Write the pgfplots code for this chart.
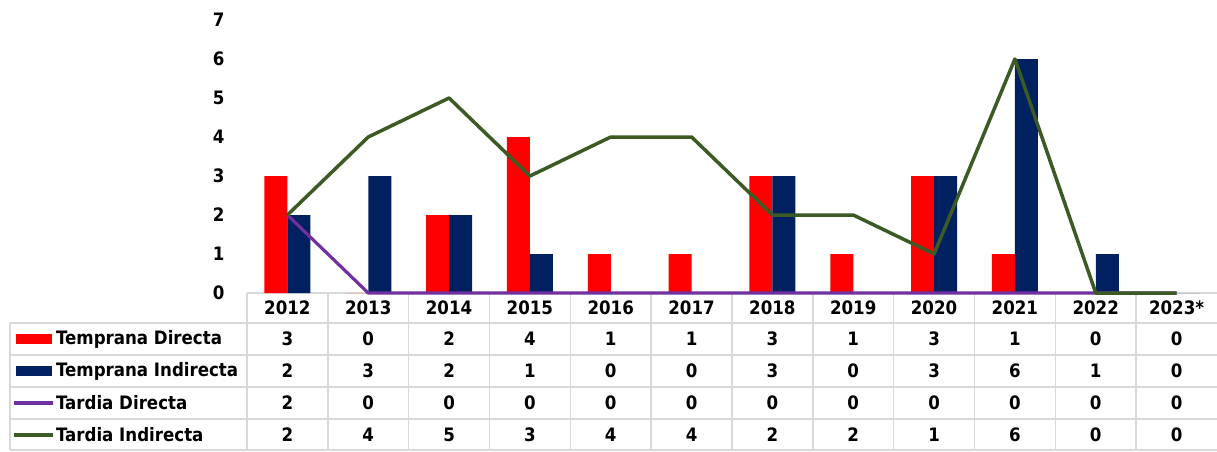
\documentclass[border=0pt]{standalone}
\usepackage{pgfplots}
\pgfplotsset{compat=1.18}
\usepackage{fontspec}
\setmainfont{DejaVu Sans Condensed}
\definecolor{cRed}{HTML}{FF0000}
\definecolor{cNavy}{HTML}{002060}
\definecolor{cPurple}{HTML}{7030A0}
\definecolor{cGreen}{HTML}{3B5A24}
\definecolor{cGrid}{HTML}{D9D9D9}
\newcommand{\tf}{\fontsize{18.5}{22}\selectfont\bfseries}
\begin{document}
\begin{tikzpicture}[x=1pt,y=1pt]
\path[use as bounding box] (0,0) rectangle (1217,451);
% table grid
\begin{scope}[draw=cGrid, line width=1.5pt]
\draw (247,158) -- (1217,158);
\foreach \y in {128,96,64,32,1} \draw (10,\y) -- (1217,\y);
\draw (10,128) -- (10,1);
\foreach \k in {0,...,11} \draw ({247+80.83*\k},158) -- ({247+80.83*\k},1);
\end{scope}
\begin{axis}[
  at={(247pt,158pt)}, anchor=south west,
  scale only axis, width=970pt, height=273pt,
  xmin=-0.5, xmax=11.5, ymin=0, ymax=7,
  axis line style={draw=none},
  xtick=\empty, ytick={0,1,...,7},
  major tick length=0pt,
  y tick label style={font=\tf, xshift=-19pt},
  /pgf/number format/assume math mode=true,
  clip=false,
]
\addplot[ybar, bar width=23pt, bar shift=-11.5pt, fill=cRed, draw=none]
  coordinates {(0,3)(1,0)(2,2)(3,4)(4,1)(5,1)(6,3)(7,1)(8,3)(9,1)(10,0)(11,0)};
\addplot[ybar, bar width=23pt, bar shift=11.5pt, fill=cNavy, draw=none]
  coordinates {(0,2)(1,3)(2,2)(3,1)(4,0)(5,0)(6,3)(7,0)(8,3)(9,6)(10,1)(11,0)};
\addplot[cPurple, line width=3.2pt, line join=round]
  coordinates {(0,2)(1,0)(2,0)(3,0)(4,0)(5,0)(6,0)(7,0)(8,0)(9,0)(10,0)(11,0)};
\addplot[cGreen, line width=3.5pt, line join=round]
  coordinates {(0,2)(1,4)(2,5)(3,3)(4,4)(5,4)(6,2)(7,2)(8,1)(9,6)(10,0)(11,0)};
\end{axis}
% header
\foreach \t [count=\i from 0] in {2012,2013,2014,2015,2016,2017,2018,2019,2020,2021,2022,2023*}
  \node[font=\tf] at ({287.4+80.83*\i},143) {\t};
% row labels with keys
\fill[cRed] (16,107) rectangle (52,117);
\fill[cNavy] (16,75) rectangle (52,85);
\draw[cPurple, line width=3.2pt] (14,48) -- (53,48);
\draw[cGreen, line width=3.5pt] (14,16) -- (53,16);
\node[font=\tf, anchor=west, inner sep=0pt] at (56,112) {Temprana Directa};
\node[font=\tf, anchor=west, inner sep=0pt] at (56,80) {Temprana Indirecta};
\node[font=\tf, anchor=west, inner sep=0pt] at (56,48) {Tardia Directa};
\node[font=\tf, anchor=west, inner sep=0pt] at (56,16) {Tardia Indirecta};
% values
\foreach \v [count=\i from 0] in {3,0,2,4,1,1,3,1,3,1,0,0}
  \node[font=\tf] at ({287.4+80.83*\i},112) {\v};
\foreach \v [count=\i from 0] in {2,3,2,1,0,0,3,0,3,6,1,0}
  \node[font=\tf] at ({287.4+80.83*\i},80) {\v};
\foreach \v [count=\i from 0] in {2,0,0,0,0,0,0,0,0,0,0,0}
  \node[font=\tf] at ({287.4+80.83*\i},48) {\v};
\foreach \v [count=\i from 0] in {2,4,5,3,4,4,2,2,1,6,0,0}
  \node[font=\tf] at ({287.4+80.83*\i},16) {\v};
\end{tikzpicture}
\end{document}
